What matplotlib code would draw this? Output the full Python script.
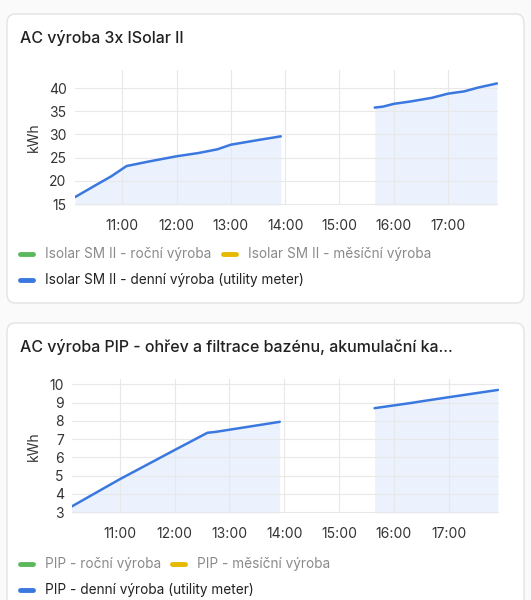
import matplotlib
matplotlib.use("Agg")
import matplotlib.pyplot as plt
from matplotlib.patches import FancyBboxPatch
import numpy as np

plt.rcParams['font.family'] = ['Inter', 'DejaVu Sans']

tick_hours = [11, 12, 13, 14, 15, 16, 17]
tick_labels = ["11:00", "12:00", "13:00", "14:00", "15:00", "16:00", "17:00"]

# Chart 1: hours (decimal), kWh ; segments separated by gaps
s1_seg1_t = [10.13, 10.5, 10.8, 11.08, 11.5, 12.0, 12.4, 12.75, 13.0, 13.5, 13.92]
s1_seg1_v = [16.5, 19.0, 21.0, 23.2, 24.2, 25.3, 26.0, 26.8, 27.8, 28.8, 29.6]
s1_seg2_t = [15.65, 15.8, 16.0, 16.3, 16.5, 16.7, 17.0, 17.3, 17.55, 17.9]
s1_seg2_v = [35.8, 36.0, 36.6, 37.1, 37.5, 37.9, 38.8, 39.3, 40.1, 41.0]

# Chart 2
s2_seg1_t = [10.12, 11.0, 12.0, 12.6, 12.75, 13.92]
s2_seg1_v = [3.3, 4.8, 6.4, 7.35, 7.4, 7.95]
s2_seg2_t = [15.65, 16.0, 16.35, 16.45, 17.0, 17.9]
s2_seg2_v = [8.7, 8.85, 9.0, 9.05, 9.3, 9.7]

W, H = 531, 600
fig = plt.figure(figsize=(W/100, H/100), dpi=100)
fig.patch.set_facecolor('#fafafa')

def px(x, y, w, h):
    return [x/W, 1-(y+h)/H, w/W, h/H]

def card(y0, y1):
    p = FancyBboxPatch((7/W, 1-y1/H), 517/W, (y1-y0)/H,
                       boxstyle="round,pad=0,rounding_size=0.015",
                       transform=fig.transFigure, facecolor='white',
                       edgecolor='#e3e3e3', lw=1, zorder=-10)
    fig.patches.append(p)

card(14, 303)
card(323, 640)

blue = '#4285f4'

def chart(ax_rect, segs, ylim, yticks, title, title_y, legend, leg_y, x2):
    ax = fig.add_axes(px(*ax_rect))
    ax.set_zorder(5)
    ax.patch.set_alpha(0)
    for t, v in segs:
        ax.plot(t, v, color='#3a78e0', lw=1.8, solid_capstyle='round')
        ax.fill_between(t, v, ylim[0], color=blue, alpha=0.1, lw=0)
    ax.set_xlim(10.13, 17.92)
    ax.set_ylim(*ylim)
    ax.set_xticks(tick_hours)
    ax.set_xticklabels(tick_labels)
    ax.set_yticks(yticks)
    ax.grid(True, color='#e8e8e8', lw=0.8)
    for s in ax.spines.values():
        s.set_visible(False)
    ax.tick_params(length=0, labelsize=10, colors='#333333', pad=6)
    ax.tick_params(axis='x', pad=10)
    ax.set_ylabel('kWh', fontsize=10, color='#333333', labelpad=6)
    fig.text(20/W, 1-title_y/H, title, fontsize=11.5, color='#212121',
             va='center', fontweight='medium')
    xs = [20, x2, 20]
    for i, (lab, col, txtcol) in enumerate(legend):
        yy = leg_y if i < 2 else leg_y + 26
        x = xs[i]
        fig.add_artist(plt.Line2D([x/W, (x+13)/W], [1-yy/H]*2, color=col, lw=3.5,
                                  solid_capstyle='round', transform=fig.transFigure))
        fig.text((x+25)/W, 1-yy/H, lab, fontsize=9.8, color=txtcol, va='center')
    return ax

chart((75, 70, 423, 135), [(s1_seg1_t, s1_seg1_v), (s1_seg2_t, s1_seg2_v)],
      (14.8, 43.9), [15, 20, 25, 30, 35, 40], "AC výroba 3x ISolar II", 38,
      [("Isolar SM II - roční výroba", '#5cb85c', '#8a8a8a'),
       ("Isolar SM II - měsíční výroba", '#e6b800', '#8a8a8a'),
       ("Isolar SM II - denní výroba (utility meter)", '#3a78e0', '#222222')], 254, 223)

chart((72, 379, 427, 134), [(s2_seg1_t, s2_seg1_v), (s2_seg2_t, s2_seg2_v)],
      (2.95, 10.3), list(range(3, 11)),
      "AC výroba PIP - ohřev a filtrace bazénu, akumulační ka...", 347,
      [("PIP - roční výroba", '#5cb85c', '#8a8a8a'),
       ("PIP - měsíční výroba", '#e6b800', '#8a8a8a'),
       ("PIP - denní výroba (utility meter)", '#3a78e0', '#222222')], 564, 172)

fig.savefig('out.png', dpi=100, facecolor=fig.get_facecolor())
